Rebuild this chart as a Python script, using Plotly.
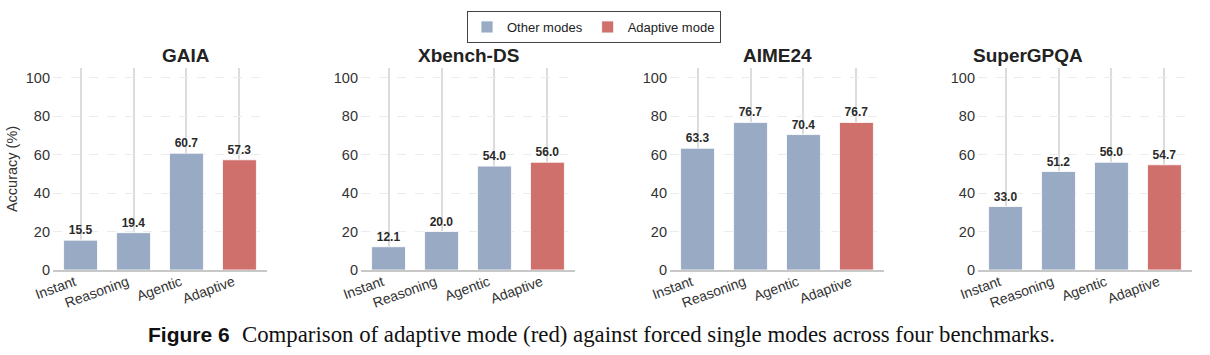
import plotly.graph_objects as go

benchmarks = ["GAIA", "Xbench-DS", "AIME24", "SuperGPQA"]
modes = ["Instant", "Reasoning", "Agentic", "Adaptive"]
gaia = [15.5, 19.4, 60.7, 57.3]
xbench = [12.1, 20.0, 54.0, 56.0]
aime = [63.3, 76.7, 70.4, 76.7]
supergpqa = [33.0, 51.2, 56.0, 54.7]
all_values = [gaia, xbench, aime, supergpqa]

BLUE = "#98aac4"
RED = "#cf706c"
W, H = 1210, 355

fig = go.Figure()
lefts = [53, 361, 670, 978]
pw = 214
ytop, ybot = 68, 270

for i, (name, vals) in enumerate(zip(benchmarks, all_values)):
    xa = "x" if i == 0 else f"x{i+1}"
    ya = "y" if i == 0 else f"y{i+1}"
    other = [v if m != "Adaptive" else None for m, v in zip(modes, vals)]
    adapt = [v if m == "Adaptive" else None for m, v in zip(modes, vals)]
    for series, col, lname in [(other, BLUE, "Other modes"), (adapt, RED, "Adaptive mode")]:
        fig.add_trace(go.Bar(
            x=modes, y=series, xaxis=xa, yaxis=ya,
            marker=dict(color=col, line=dict(color="rgba(255,255,255,0.8)", width=1)),
            width=0.64, name=lname, showlegend=(i == 0), legendgroup=lname,
            text=[f"{v:.1f}" if v is not None else "" for v in series],
            textposition="outside", cliponaxis=False,
            textfont=dict(family="Liberation Sans, Arial", size=12, color="#2a2a2a", weight="bold"),
        ))
    d0 = lefts[i] / W
    d1 = (lefts[i] + pw) / W
    fig.layout[f"xaxis{'' if i == 0 else i+1}"] = dict(
        domain=[d0, d1], anchor=ya, range=[-0.52, 3.52], automargin=False,
        showgrid=True, gridcolor="#dcdcdc", gridwidth=1.5,
        showline=True, linecolor="#c8c8c8", linewidth=1.5,
        tickangle=-20, ticks="", tickfont=dict(family="Liberation Sans, Arial", size=14, color="#333"),
        ticklabelshift=-6, ticklabelstandoff=-3,
        zeroline=False,
    )
    fig.layout[f"yaxis{'' if i == 0 else i+1}"] = dict(
        domain=[1 - ybot / H, 1 - ytop / H], anchor=xa, range=[0, 105], automargin=False,
        tickvals=[0, 20, 40, 60, 80, 100],
        showgrid=True, gridcolor="#ececec", griddash="dash", gridwidth=1,
        showline=False, zeroline=False, ticks="", ticklabelstandoff=2,
        tickfont=dict(family="Liberation Sans, Arial", size=14.5, color="#333"),
        title=dict(text="Accuracy (%)", font=dict(family="Liberation Sans, Arial", size=14.5, color="#333"), standoff=4) if i == 0 else None,
    )
    fig.add_annotation(
        x=(d0 + d1) / 2, y=1 - 55 / H, xref="paper", yref="paper",
        text=f"<b>{name}</b>", showarrow=False, yanchor="middle",
        font=dict(family="Liberation Sans, Arial", size=19, color="#222"),
    )

fig.add_annotation(x=146 / W, y=1 - 334 / H, xref="paper", yref="paper", xanchor="left", yanchor="middle",
                   text="<b>Figure 6</b>", showarrow=False,
                   font=dict(family="Liberation Sans, Arial", size=21, color="#111"))
fig.add_annotation(x=240 / W, y=1 - 334 / H, xref="paper", yref="paper", xanchor="left", yanchor="middle",
                   text="Comparison of adaptive mode (red) against forced single modes across four benchmarks.",
                   showarrow=False,
                   font=dict(family="Liberation Serif, Times New Roman", size=22.8, color="#111"))

fig.update_layout(
    width=W, height=H, margin=dict(l=0, r=0, t=0, b=0, autoexpand=False),
    paper_bgcolor="white", plot_bgcolor="white", barmode="overlay",
    legend=dict(orientation="h", x=594 / W, xanchor="center", y=1 - 11 / H, yanchor="top",
                bordercolor="#444", borderwidth=1, bgcolor="white",
                font=dict(family="Liberation Sans, Arial", size=13, color="#222"),
                itemwidth=30, tracegroupgap=0),
)

fig.write_html("out.html", config={"displayModeBar": False},
               post_script="document.body.style.margin='0';")
